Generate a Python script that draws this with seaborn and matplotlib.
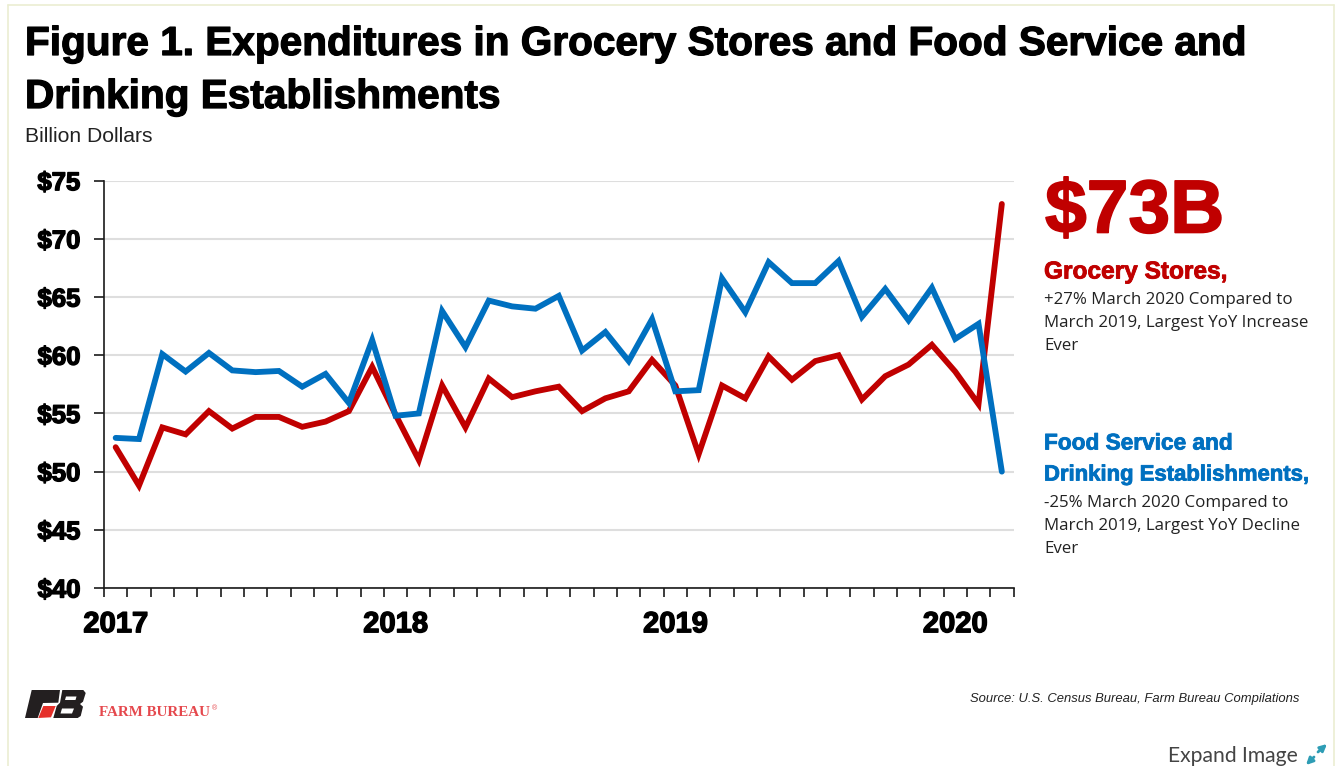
import matplotlib
matplotlib.use("Agg")
import matplotlib.pyplot as plt
import matplotlib.patheffects as pe
from matplotlib.patches import Polygon, FancyArrowPatch
import pandas as pd
import seaborn as sns

months = pd.date_range("2017-01-01", "2020-03-01", freq="MS").strftime("%Y-%m").tolist()
grocery = [52.1, 48.8, 53.8, 53.2, 55.2, 53.7, 54.7, 54.7, 53.85, 54.3, 55.2, 59.0, 54.9,
           51.0, 57.4, 53.8, 58.0, 56.4, 56.9, 57.3, 55.2, 56.3, 56.9, 59.6, 57.4, 51.5,
           57.4, 56.3, 59.9, 57.9, 59.5, 60.0, 56.2, 58.2, 59.2, 60.9, 58.6, 55.8, 73.0]
food_service = [52.9, 52.8, 60.1, 58.6, 60.2, 58.7, 58.55, 58.65, 57.3, 58.4, 55.9, 61.3, 54.8,
                55.0, 63.8, 60.7, 64.7, 64.2, 64.0, 65.1, 60.4, 62.0, 59.5, 63.1, 56.9, 57.0,
                66.6, 63.7, 68.0, 66.2, 66.2, 68.1, 63.3, 65.7, 63.0, 65.8, 61.4, 62.7, 50.0]
y_ticks = [40, 45, 50, 55, 60, 65, 70, 75]
year_labels = ["2017", "2018", "2019", "2020"]

RED = "#C00000"
BLUE = "#0070C0"
W, H = 1335, 766

sns.set_theme(style="white")
plt.rcParams["font.family"] = ["Liberation Sans", "DejaVu Sans"]

frame = pd.DataFrame({
    "month": list(range(len(months))) * 2,
    "billions": grocery + food_service,
    "series": ["Grocery Stores"] * len(months) + ["Food Service"] * len(months),
})

fig = plt.figure(figsize=(W / 100, H / 100), dpi=100, facecolor="white")
ax = fig.add_axes([104 / W, 1 - 588 / H, (1013.5 - 104) / W, (588 - 180.7) / H])

# Blue is listed last so it is drawn over the red line where they cross
sns.lineplot(data=frame, x="month", y="billions", hue="series",
             hue_order=["Grocery Stores", "Food Service"],
             palette={"Grocery Stores": RED, "Food Service": BLUE},
             linewidth=4.2, legend=False, ax=ax, zorder=3, estimator=None,
             solid_joinstyle="miter")
ax.set_xlim(-0.5, len(months) - 0.5)
ax.set_ylim(40, 75)
ax.set_xlabel("")
ax.set_ylabel("")

ax.yaxis.grid(True, color="#DEDEDE", linewidth=1.5, zorder=0)
ax.xaxis.grid(False)
ax.set_axisbelow(True)
for side in ("top", "right"):
    ax.spines[side].set_visible(False)
for side in ("left", "bottom"):
    ax.spines[side].set_color("#1a1a1a")
    ax.spines[side].set_linewidth(1.2)

heavy = [pe.withStroke(linewidth=1.0, foreground="black")]

ax.set_yticks(y_ticks)
ax.set_yticklabels([f"${v}" for v in y_ticks], fontsize=18.5, fontweight="bold",
                   color="black", path_effects=heavy)
ax.tick_params(axis="y", length=7, width=1.2, color="#1a1a1a", pad=10, left=True)

ax.set_xticks([i - 0.5 for i in range(len(months) + 1)])
ax.set_xticklabels([])
ax.tick_params(axis="x", which="major", length=6.5, width=1.2, color="#1a1a1a", bottom=True)
ax.set_xticks([0, 12, 24, 36], minor=True)
ax.set_xticklabels(year_labels, minor=True, fontsize=21, fontweight="bold",
                   color="black", path_effects=heavy)
ax.tick_params(axis="x", which="minor", length=0, pad=16, bottom=True)


def px(x, y, text, **kw):
    """Place figure text using pixel coordinates measured from the top left."""
    return fig.text(x / W, 1 - y / H, text, **kw)


title_style = dict(fontsize=29.2, fontweight="bold", color="black", va="center",
                   path_effects=[pe.withStroke(linewidth=0.9, foreground="black")])
px(25, 44, "Figure 1. Expenditures in Grocery Stores and Food Service and", **title_style)
px(25, 97, "Drinking Establishments", **title_style)
px(25, 137, "Billion Dollars", fontsize=15.2, color="#222222", va="center")

px(1045, 213, "$73B", fontsize=54, fontweight="bold", color=RED, va="center",
   path_effects=[pe.withStroke(linewidth=1.2, foreground=RED)])

note = dict(fontsize=12.2, color="#222222", va="center", fontfamily="Open Sans")


def head(y, text, color, size):
    px(1044, y, text, color=color, fontsize=size, fontweight="bold", va="center",
       path_effects=[pe.withStroke(linewidth=0.6, foreground=color)])


head(272, "Grocery Stores,", RED, 17.6)
px(1044, 300, "+27% March 2020 Compared to", **note)
px(1044, 323, "March 2019, Largest YoY Increase", **note)
px(1044, 346, "Ever", **note)

head(443, "Food Service and", BLUE, 16.3)
head(475, "Drinking Establishments,", BLUE, 15.9)
px(1044, 503, "-25% March 2020 Compared to", **note)
px(1044, 526, "March 2019, Largest YoY Decline", **note)
px(1044, 549, "Ever", **note)

px(1299, 699, "Source: U.S. Census Bureau, Farm Bureau Compilations", fontsize=9.35,
   style="italic", color="#222222", ha="right", va="center")
px(1168, 756, "Expand Image", fontsize=15.2, color="#444444", va="center", fontfamily="Lato")


def shape(points, color):
    fig.add_artist(Polygon([(x / W, 1 - y / H) for x, y in points], closed=True,
                           facecolor=color, edgecolor="none",
                           transform=fig.transFigure))


# Farm Bureau emblem: F, red leaf, then B with its two counters knocked out
shape([(31.7, 690), (60, 690), (58.3, 702.7), (43, 703), (37.7, 718), (25, 718)], "#231F20")
shape([(43.3, 706), (55.7, 706), (51, 717.3), (38.3, 718)], "#E5302A")
shape([(62.3, 690), (83.3, 690), (85.7, 693), (83, 701.7), (80, 704), (83, 706.7), (80.7, 716),
       (77.7, 718), (53.3, 718), (56.7, 706), (60, 702.7)], "#231F20")
shape([(66, 696.5), (76.5, 696.5), (75.5, 700), (65, 700)], "white")
shape([(62, 708.5), (74, 708.5), (72, 713.5), (60.5, 713.5)], "white")
px(99, 713, "FARM BUREAU", fontsize=10.8, fontweight="bold", color="#E5484D", va="center",
   fontfamily="Liberation Serif")
px(212, 709, "®", fontsize=5, color="#E5484D", va="center")

# Expand icon
for start, end in [((1318, 752), (1327, 744)), ((1314, 757), (1306, 765))]:
    fig.add_artist(FancyArrowPatch((start[0] / W, 1 - start[1] / H), (end[0] / W, 1 - end[1] / H),
                                   transform=fig.transFigure, arrowstyle="-|>", mutation_scale=10,
                                   color="#2E9DB5", linewidth=2, shrinkA=0, shrinkB=0))

# Pale frame lines at the page edges
frame_color = "#EBEED2"
fig.add_artist(plt.Line2D([7.5 / W, 7.5 / W], [0, 1 - 5 / H], color=frame_color, linewidth=1.2))
fig.add_artist(plt.Line2D([1334 / W, 1334 / W], [0, 1 - 5 / H], color=frame_color, linewidth=1.2))
fig.add_artist(plt.Line2D([7.5 / W, 1334 / W], [1 - 5 / H, 1 - 5 / H], color=frame_color, linewidth=1.2))

fig.savefig("out.png", dpi=100, facecolor="white")
